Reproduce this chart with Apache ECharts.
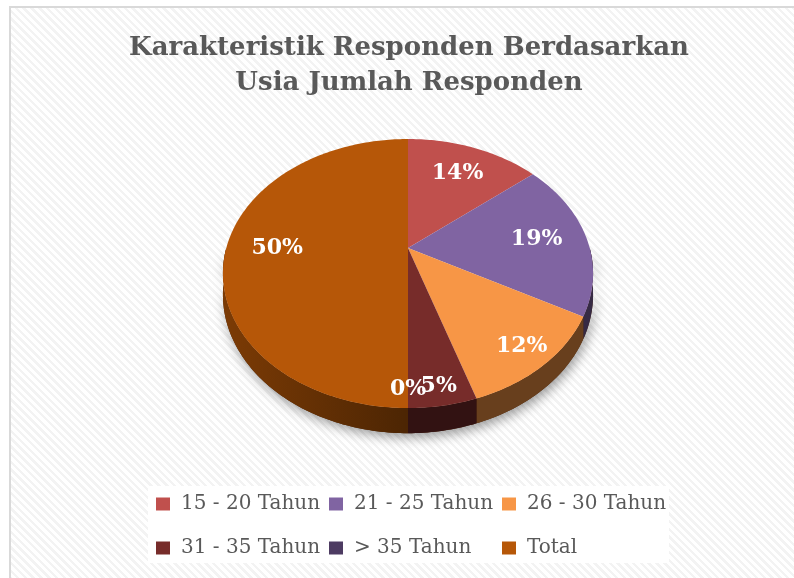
<!DOCTYPE html>
<html>
<head>
<meta charset="utf-8">
<script src="https://cdn.jsdelivr.net/npm/echarts@6/dist/echarts.min.js"></script>
<style>
  html, body { margin: 0; padding: 0; background: #fff; overflow: hidden; width: 794px; height: 578px; }
  #chart {
    position: absolute; left: 9px; top: 6px; width: 796px; height: 600px;
    border-left: 2px solid #d9d9d9; border-top: 2px solid #d9d9d9;
    background: repeating-linear-gradient(45deg, #fff 0 3px, #f3f3f3 3px 5.5px);
  }
</style>
</head>
<body>
<div id="chart"></div>
<script>
const categories = ['15 - 20 Tahun', '21 - 25 Tahun', '26 - 30 Tahun', '31 - 35 Tahun', '> 35 Tahun', 'Total']
const values = [14, 19, 12, 5, 0, 50]
const colors = ['#C0504D', '#8064A2', '#F79646', '#772C2A', '#4D3B62', '#B65708']

const total = values.reduce((a, b) => a + b, 0)
const starts = []
let acc = 0
values.forEach(v => { starts.push(acc); acc += v })

// tilted pie seen in perspective: a/b half axes, k perspective, h thickness
const P = { cx: 397, cy: 240, a: 129.7, b: 181.7, k: 0.19, h: 20.3 }
const FONT = '"DejaVu Serif", serif'

function proj(t, r, drop) {
  const u = r * Math.sin(t), v = -r * Math.cos(t)
  const s = 1 / (1 - P.k * v)
  return [P.cx + P.b * u * s, P.cy + P.a * v * s + (drop ? P.h * s : 0)]
}

function arc(t0, t1, drop) {
  const n = Math.max(2, Math.ceil(Math.abs(t1 - t0) / (Math.PI / 180)))
  const pts = []
  for (let i = 0; i <= n; i++) pts.push(proj(t0 + (t1 - t0) * i / n, 1, drop))
  return pts
}

function shade(hex, f) {
  const n = parseInt(hex.slice(1), 16)
  const c = [(n >> 16) & 255, (n >> 8) & 255, n & 255].map(x => Math.round(x * f))
  return 'rgb(' + c.join(',') + ')'
}

function renderSlice(params, api) {
  const i = params.seriesIndex
  const v = api.value(0)
  const t0 = starts[i] / total * Math.PI * 2
  const t1 = t0 + v / total * Math.PI * 2
  const children = []

  // soft shadow under the whole pie, drawn once
  if (i === 0) {
    children.push({
      type: 'polygon', z2: 0,
      shape: { points: arc(Math.PI / 2, Math.PI * 1.5, true).concat(arc(Math.PI * 1.5, Math.PI / 2, false)) },
      style: { fill: '#4a2208', shadowBlur: 12, shadowColor: 'rgba(0,0,0,0.4)', shadowOffsetX: 2, shadowOffsetY: 4 }
    })
  }

  if (v > 0) {
    const s0 = Math.max(t0, Math.PI / 2), s1 = Math.min(t1, Math.PI * 1.5)
    if (s1 > s0) {
      children.push({
        type: 'polygon', z2: 1,
        shape: { points: arc(s0, s1, false).concat(arc(s1, s0, true)) },
        style: {
          fill: new echarts.graphic.LinearGradient(P.cx - P.b * 1.02, 0, P.cx, 0, [
            { offset: 0, color: shade(colors[i], 0.68) },
            { offset: 1, color: shade(colors[i], 0.42) }
          ], true)
        }
      })
    }
    children.push({
      type: 'polygon', z2: 2,
      shape: { points: [proj(0, 0, false)].concat(arc(t0, t1, false)) },
      style: { fill: colors[i] }
    })
  }

  const mid = (t0 + t1) / 2
  const lp = proj(mid, 0.72 + 0.18 * Math.max(0, -Math.cos(mid)), false)
  children.push({
    type: 'text', z2: 3,
    style: {
      text: Math.round(v / total * 100) + '%',
      x: lp[0], y: lp[1], fill: '#fff',
      font: 'bold 22px ' + FONT,
      align: 'center', verticalAlign: 'middle'
    }
  })
  return { type: 'group', children }
}

const legendBase = {
  left: 137,
  orient: 'horizontal',
  icon: 'rect',
  itemWidth: 14,
  itemHeight: 13,
  itemGap: 6,
  backgroundColor: '#fff',
  selectedMode: false,
  textStyle: {
    fontFamily: FONT, fontSize: 20, color: '#595959',
    width: 142, lineHeight: 24, padding: [0, 0, 0, 6]
  }
}

const chart = echarts.init(document.getElementById('chart'))
chart.setOption({
  animation: false,
  title: {
    text: 'Karakteristik Responden Berdasarkan\nUsia Jumlah Responden',
    left: 'center',
    top: 23,
    padding: 0,
    textStyle: { fontFamily: FONT, fontWeight: 'bold', fontSize: 26, color: '#595959', lineHeight: 35 }
  },
  legend: [
    Object.assign({}, legendBase, { top: 478, padding: [6, 0, 14, 8], data: categories.slice(0, 3) }),
    Object.assign({}, legendBase, { top: 522, padding: [6, 0, 3, 8], data: categories.slice(3) })
  ],
  series: categories.map((name, i) => ({
    type: 'custom',
    name,
    coordinateSystem: 'none',
    itemStyle: { color: colors[i] },
    renderItem: renderSlice,
    data: [values[i]]
  }))
})
</script>
</body>
</html>
